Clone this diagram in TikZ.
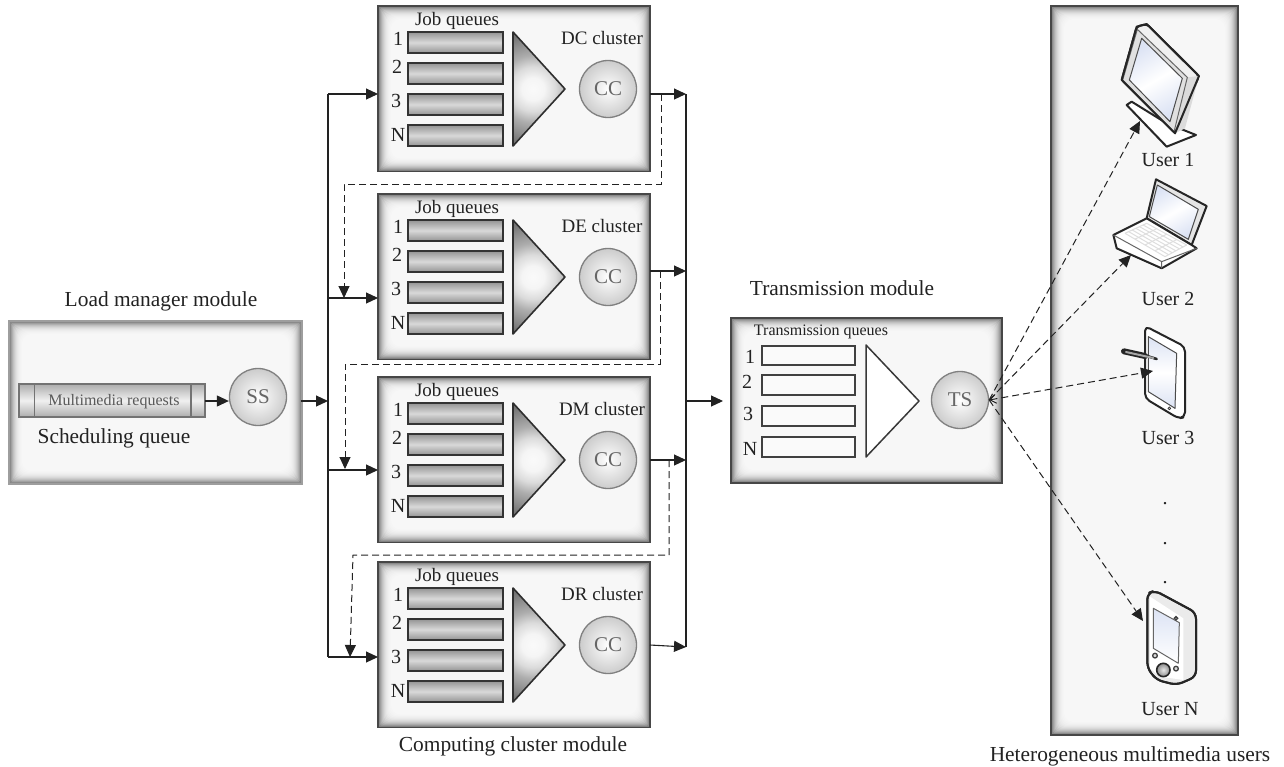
\documentclass[tikz,border=0pt]{standalone}
\usepackage{fontspec}
\setmainfont{Liberation Serif}
\usetikzlibrary{arrows.meta,fit,calc}
\definecolor{ink}{HTML}{222222}
\definecolor{screenblue}{HTML}{DCE3F4}
\pgfdeclareradialshading{triglow}{\pgfpointorigin}{%
  rgb(0bp)=(0.98,0.98,0.98); rgb(4bp)=(0.96,0.96,0.96); rgb(8bp)=(0.86,0.86,0.86); rgb(12bp)=(0.68,0.68,0.68);
  rgb(21bp)=(0.42,0.42,0.42); rgb(50bp)=(0.42,0.42,0.42)}
\tikzset{
  arr/.style={draw=ink,line width=1.1pt,-{Triangle[length=12pt,width=11pt]}},
  plain/.style={draw=ink,line width=1.1pt},
  dasharr/.style={draw=ink,line width=1pt,dash pattern=on 7pt off 4pt,-{Triangle[length=12pt,width=11pt]}},
  dashboth/.style={draw=ink,line width=1pt,dash pattern=on 7pt off 4pt,{Straight Barb[length=6pt,width=9pt]}-{Triangle[length=12pt,width=11pt]}},
  lbl/.style={inner sep=0pt,text=ink,yshift=-2pt,font=\fontsize{21.4}{21.4}\selectfont},
  smalllbl/.style={inner sep=0pt,text=ink,font=\fontsize{19}{19}\selectfont},
  numlbl/.style={inner sep=0pt,text=ink,font=\fontsize{20}{20}\selectfont},
  tinylbl/.style={inner sep=0pt,text=black!65,font=\fontsize{16}{16}\selectfont},
  server/.style={circle,draw=black!50,line width=1.3pt,minimum size=57pt,inner sep=0pt,
    inner color=white,outer color=black!20,text=black!60,font=\fontsize{21}{21}\selectfont},
  bar/.style={draw=black!80,line width=1.7pt,top color=black!42,bottom color=black!42,middle color=black!15},
  whitebar/.style={draw=black!75,line width=1.4pt,fill=black!2},
  icon/.style={draw=black!85,line width=2pt,line join=round},
  iconthin/.style={draw=black!60,line width=1pt,line join=round},
}
% name, x1, y1, x2, y2, border colour
\newcommand{\modbox}[6]{%
  \foreach \i in {0,...,15}{%
    \pgfmathsetmacro\p{3+52*(1-\i/16)*(1-\i/16)*(1-\i/16)}%
    \pgfmathsetmacro\r{\i*0.7+0.01}%
    \fill[black!\p!white,rounded corners=\r pt] ({#2+\i},{#3+\i}) rectangle ({#4-\i},{#5-\i});
  }%
  \node[fit={(#2,#3)(#4,#5)},inner sep=0pt,draw=#6,line width=1.5pt] (#1) {};
}
% name, top, label, in y, out y
\newcommand{\cluster}[5]{%
  \modbox{#1}{378}{#2}{650}{#2+165.5}{black!72}
  \coordinate (#1-in) at (378,#4);
  \coordinate (#1-out) at (650,#5);
  \node[smalllbl] (#1-title) at (457,{#2+15}) {Job queues};
  \foreach \o/\n/\lx/\ly/\t in {26/a/398/33/1,57/b/397/61/2,88/c/396/95/3,119/d/398/129/N}{%
    \node[numlbl] (#1-lab\n) at (\lx,{#2+\ly}) {\t};
    \path[bar] (408,{#2+\o}) rectangle (503,{#2+\o+21});
  }
  \begin{scope}
    \clip (513,{#2+26}) -- (565,{#2+83}) -- (513,{#2+140}) -- cycle;
    \shade[shading=triglow] (533,{#2+83}) circle (70);
  \end{scope}
  \draw[draw=black!82,line width=1.6pt,line join=round] (513,{#2+26}) -- (565,{#2+83}) -- (513,{#2+140}) -- cycle;
  \node[smalllbl] (#1-name) at (602,{#2+32}) {#3};
  \node[server] (#1-cc) at (608,{#2+83}) {CC};
}
\begin{document}
\begin{tikzpicture}[x=1pt,y=-1pt]
\useasboundingbox (0,0) rectangle (1284,766);
\fill[white] (0,0) rectangle (1284,766);

% load manager
\node[lbl] (loadt) at (161,299) {Load manager module};
\modbox{load}{9}{321}{302}{484}{black!38}
\path[draw=black!55,line width=1.5pt,top color=black!32,bottom color=black!32,middle color=black!6] (19,384) rectangle (205,417);
\draw[black!55,line width=1.3pt] (34.5,384) -- (34.5,417) (191,384) -- (191,417);
\node[tinylbl] (mmr) at (114,402) {Multimedia requests};
\node[lbl] (schedq) at (114,436) {Scheduling queue};
\coordinate (qout) at (205,401);
\node[server] (ss) at (258,397) {SS};

% clusters
\cluster{c1}{6}{DC cluster}{94}{94}
\cluster{c2}{194}{DE cluster}{298}{271}
\cluster{c3}{377}{DM cluster}{470}{460}
\cluster{c4}{562}{DR cluster}{657}{645}
\node[lbl] (cct) at (513,744) {Computing cluster module};

% transmission
\node[lbl] (trt) at (842,286) {Transmission module};
\modbox{tr}{731}{318}{1002}{483}{black!72}
\node[tinylbl,text=ink] (trq) at (821,332) {Transmission queues};
\foreach \y/\h/\n/\lx/\ly/\t in {346/19/a/750/357/1,375/20/b/747/382/2,406/20/c/748/414/3,437/20/d/750/449/N}{%
  \node[numlbl] (trl\n) at (\lx,\ly) {\t};
  \path[whitebar] (762,\y) rectangle (855,\y+\h);
}
\draw[draw=black!78,fill=white,line width=1.5pt,line join=round] (866,345) -- (919,401) -- (866,457) -- cycle;
\node[server] (ts) at (960,400) {TS};

% users panel
\modbox{users}{1051}{6}{1238}{735}{black!72}
\node[numlbl] (u1) at (1168,160) {User 1};
\node[numlbl] (u2) at (1168,299) {User 2};
\node[numlbl] (u3) at (1168,438) {User 3};
\node[numlbl] (u4) at (1170,709) {User N};
\node[lbl] (het) at (1130,754) {Heterogeneous multimedia users};
\node[numlbl] (d1) at (1165,504) {.};
\node[numlbl] (d2) at (1165,544) {.};
\node[numlbl] (d3) at (1165,583) {.};

% monitor
\begin{scope}[shift={(1050,0)},x=0.3333pt,y=-0.3333pt]
  \path[icon,fill=white] (230,315) -- (245,305) -- (350,370) -- (438,405) -- (350,440) -- cycle;
  \path[icon,fill=black!6,rounded corners=3pt] (260,80) -- (290,72) -- (447,228) -- (375,400) -- (215,240) -- cycle;
  \path[fill=black!14] (412,232) -- (447,228) -- (405,385) -- (375,400) -- cycle;
  \path[iconthin,fill=black!12] (262,88) -- (412,232) -- (372,396) -- (218,240) -- cycle;
  \path[iconthin,draw=black!70,left color=screenblue,right color=screenblue,middle color=white,shading angle=30] (275,115) -- (397,235) -- (360,365) -- (238,240) -- cycle;
  \path[icon] (260,80) -- (290,72) -- (447,228) -- (375,400) -- (215,240) -- cycle;
  % laptop
  \path[icon,fill=black!10] (318,538) -- (470,618) -- (425,735) -- (290,655) -- cycle;
  \path[iconthin,draw=black!70,left color=screenblue,right color=screenblue,middle color=white,shading angle=30] (322,555) -- (445,628) -- (415,718) -- (298,650) -- cycle;
  \path[icon,fill=white] (290,655) -- (425,735) -- (440,745) -- (335,805) -- (200,745) -- (190,705) -- cycle;
  \draw[iconthin,draw=black!60] (190,705) -- (335,785) -- (440,745) (335,785) -- (335,805);
  \foreach \s in {0,...,4}{%
    \draw[black!13,line width=1pt] ($(225,700)!\s/4!(345,770)$) -- ($(290,670)!\s/4!(410,735)$);
  }
  \foreach \s in {0,...,6}{%
    \draw[black!13,line width=1pt] ($(225,700)!\s/6!(290,670)$) -- ($(345,770)!\s/6!(410,735)$);
  }
\end{scope}
\begin{scope}[shift={(1050,330)},x=0.3333pt,y=-0.3333pt]
  % tablet
  \path[icon,fill=white,rounded corners=5pt] (285,-12) -- (405,50) -- (405,262) -- (385,265) -- (285,205) -- cycle;
  \path[iconthin,draw=black!70,top color=screenblue,bottom color=screenblue,middle color=white] (295,20) -- (380,70) -- (375,235) -- (295,185) -- cycle;
  \draw[black!80,line width=0.8pt,fill=white] (358,235) circle (4);
  \draw[black!85,line width=6pt,line cap=round] (222,64) -- (285,78);
  \draw[black!85,line width=2.6pt,line cap=round] (285,76) -- (320,87);
  \draw[black!35,line width=2pt,line cap=round] (228,66) -- (310,84);
  % pda
  \path[icon,fill=black!8,rounded corners=6pt] (292,790) -- (315,782) -- (438,848) -- (438,1040) -- (380,1065) -- (320,1050) -- (292,1015) -- cycle;
  \path[fill=white] (300,800) -- (400,865) -- (400,1050) -- (330,1040) -- (300,1015) -- cycle;
  \path[iconthin,draw=black!60,top color=screenblue,bottom color=white] (310,835) -- (388,878) -- (385,1000) -- (310,955) -- cycle;
  \draw[black!75,line width=1.3pt,fill=black!15] (378,865) circle (5);
  \draw[black!75,line width=1.3pt,fill=black!15] (315,977) circle (7);
  \draw[black!75,line width=1.3pt,fill=black!15] (378,1016) circle (7);
  \shade[inner color=black!10,outer color=black!45] (340,1020) circle (20);
  \draw[black!85,line width=1.6pt] (340,1020) circle (20);
  \path[icon,rounded corners=6pt] (292,790) -- (315,782) -- (438,848) -- (438,1040) -- (380,1065) -- (320,1050) -- (292,1015) -- cycle;
\end{scope}
\coordinate (u1tip) at (1140,121);
\coordinate (u2tip) at (1131,255);
\coordinate (u3tip) at (1153,371);
\coordinate (u4tip) at (1143,621);

% bus coordinates
\coordinate (busL) at (328,401);
\coordinate (busR) at (686,401);
\coordinate (busRend) at (686,647);
\coordinate (ssout) at (301,401);
\coordinate (trin) at (723,401);

% solid connectors
\draw[arr] (qout) -- (ss.west |- qout);
\draw[arr] (ssout) -- (busL);
\draw[plain] (busL |- c1-in) -- (busL |- c4-in);
\foreach \c in {c1,c2,c3,c4}{\draw[arr] (busL |- \c-in) -- (\c-in);}
\draw[plain] (busR |- c1-out) -- (busRend);
\draw[arr] (c1-out) -- (busR |- c1-out);
\draw[arr] (c2-out) -- (busR |- c2-out);
\draw[arr] (c3-out) -- (busR |- c3-out);
\draw[arr] (c4-out) -- (busRend);
\draw[arr] (busR) -- (trin);

% dashed connectors
\coordinate (d1s) at (661,94);
\coordinate (d1a) at (661,184);
\coordinate (d1b) at (344,184);
\coordinate (d1e) at (344,298);
\coordinate (d2s) at (660,271);
\coordinate (d2a) at (660,364);
\coordinate (d2b) at (345,364);
\coordinate (d2e) at (345,469);
\coordinate (d3s) at (669,460);
\coordinate (d3a) at (669,555);
\coordinate (d3b) at (353,555);
\coordinate (d3e) at (350,657);
\draw[dasharr] (d1s) -- (d1a) -- (d1b) -- (d1e);
\draw[dasharr] (d2s) -- (d2a) -- (d2b) -- (d2e);
\draw[dasharr] (d3s) -- (d3a) -- (d3b) -- (d3e);

% dashed to users
\coordinate (tsp) at (ts.east);
\draw[dasharr] (tsp) -- (u1tip);
\draw[dasharr] (tsp) -- (u2tip);
\draw[dashboth] (tsp) -- (u3tip);
\draw[dasharr] (tsp) -- (u4tip);
\end{tikzpicture}
\end{document}
